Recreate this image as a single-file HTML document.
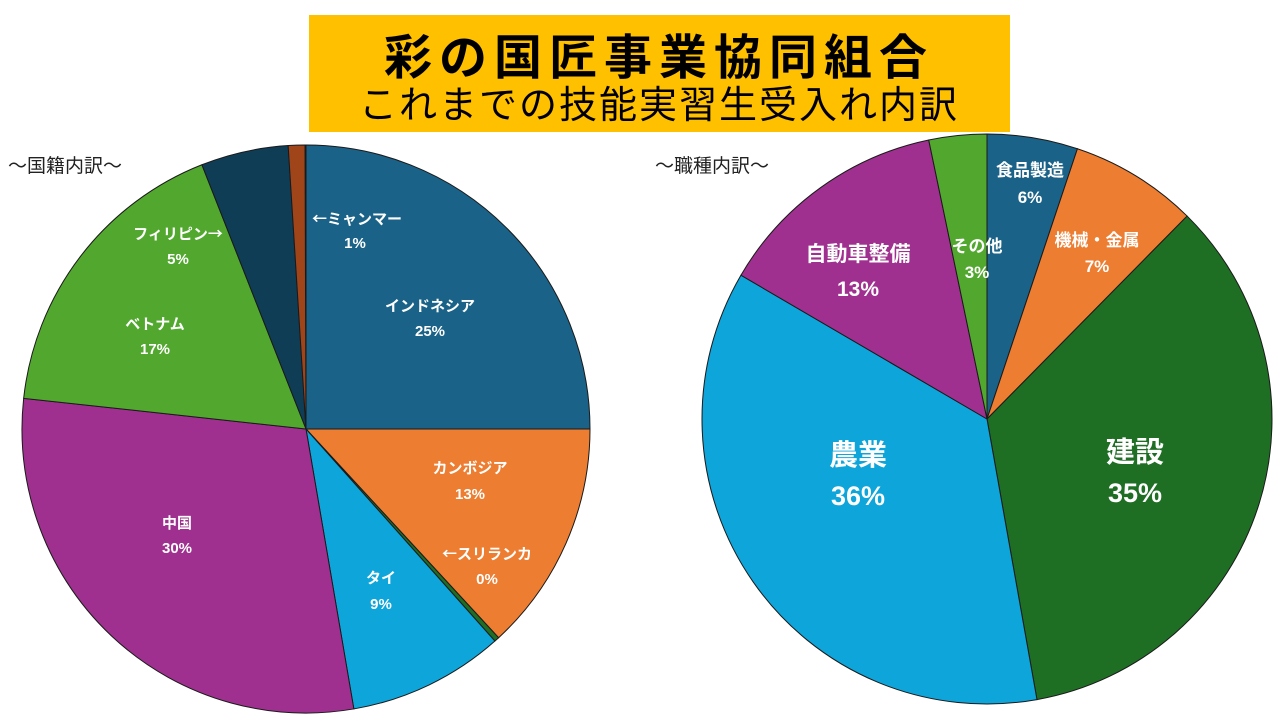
<!DOCTYPE html>
<html><head><meta charset="utf-8"><style>
html,body{margin:0;padding:0;background:#fff;width:1280px;height:720px;overflow:hidden}
svg{display:block}
text{font-family:"Liberation Sans","Noto Sans CJK JP",sans-serif}
.w{fill:#fff;font-weight:bold;text-anchor:middle}
.ar{font-family:"Noto Sans CJK JP",sans-serif}
</style></head><body>
<svg id="s" width="1280" height="720" xmlns="http://www.w3.org/2000/svg">
<rect x="309" y="15" width="701" height="117" fill="#ffc000"/>
<text x="659" y="74" text-anchor="middle" font-size="48" letter-spacing="7" fill="#000" font-weight="bold">彩の国匠事業協同組合</text>
<text x="659" y="118" text-anchor="middle" font-size="38" letter-spacing="2" fill="#000">これまでの技能実習生受入れ内訳</text>
<text x="8" y="172" font-size="19" fill="#222">～国籍内訳～</text>
<text x="655" y="172" font-size="19" fill="#222">～職種内訳～</text>
<g id="L"></g><g id="R"></g>
<g font-size="15">
<text class="w" x="357" y="224"><tspan class="ar">←</tspan>ミャンマー</text><text class="w" x="355" y="248">1%</text>
<text class="w" x="430" y="311">インドネシア</text><text class="w" x="430" y="336">25%</text>
<text class="w" x="470" y="473">カンボジア</text><text class="w" x="470" y="499">13%</text>
<text class="w" x="487" y="559"><tspan class="ar">←</tspan>スリランカ</text><text class="w" x="487" y="584">0%</text>
<text class="w" x="381" y="583">タイ</text><text class="w" x="381" y="609">9%</text>
<text class="w" x="177" y="528">中国</text><text class="w" x="177" y="553">30%</text>
<text class="w" x="155" y="329">ベトナム</text><text class="w" x="155" y="354">17%</text>
<text class="w" x="178" y="239">フィリピン<tspan class="ar">→</tspan></text><text class="w" x="178" y="264">5%</text>
<text class="w" x="1030" y="176" font-size="17">食品製造</text><text class="w" x="1030" y="203" font-size="17">6%</text>
<text class="w" x="1097" y="246" font-size="17">機械・金属</text><text class="w" x="1097" y="272" font-size="17">7%</text>
<text class="w" x="977" y="252" font-size="17">その他</text><text class="w" x="977" y="278" font-size="17">3%</text>
<text class="w" x="858" y="261" font-size="21">自動車整備</text><text class="w" x="858" y="296" font-size="21">13%</text>
<text class="w" x="1135" y="462" font-size="29">建設</text><text class="w" x="1135" y="502" font-size="27">35%</text>
<text class="w" x="858" y="465" font-size="29">農業</text><text class="w" x="858" y="505" font-size="27">36%</text>
</g>
</svg>
<script>
function pie(id,cx,cy,r,sl){
  var g=document.getElementById(id),h='';
  function pt(a){a=a*Math.PI/180;return [(cx+r*Math.sin(a)).toFixed(2),(cy-r*Math.cos(a)).toFixed(2)];}
  for(var i=0;i<sl.length;i++){
    var a0=sl[i][0],a1=sl[i][1],p0=pt(a0),p1=pt(a1),lg=(a1-a0)>180?1:0;
    h+='<path d="M'+cx+' '+cy+' L'+p0[0]+' '+p0[1]+' A'+r+' '+r+' 0 '+lg+' 1 '+p1[0]+' '+p1[1]+' Z" fill="'+sl[i][2]+'" stroke="#1a1a1a" stroke-width="1"/>';
  }
  g.innerHTML=h;
}
pie('L',306,429,284,[[0,90,'#1a6287'],[90,137.3,'#ed7d31'],[137.3,138.3,'#1e6e24'],[138.3,170.3,'#0ea5db'],[170.3,276.2,'#a0308f'],[276.2,338.5,'#52a82f'],[338.5,356.4,'#0f3d56'],[356.4,359.8,'#a0451a']]);
pie('R',987,419,285,[[0,18.5,'#1a6287'],[18.5,44.6,'#ed7d31'],[44.6,169.9,'#1e6e24'],[169.9,300.3,'#0ea5db'],[300.3,348.2,'#a0308f'],[348.2,360,'#52a82f']]);
</script>
</body></html>
